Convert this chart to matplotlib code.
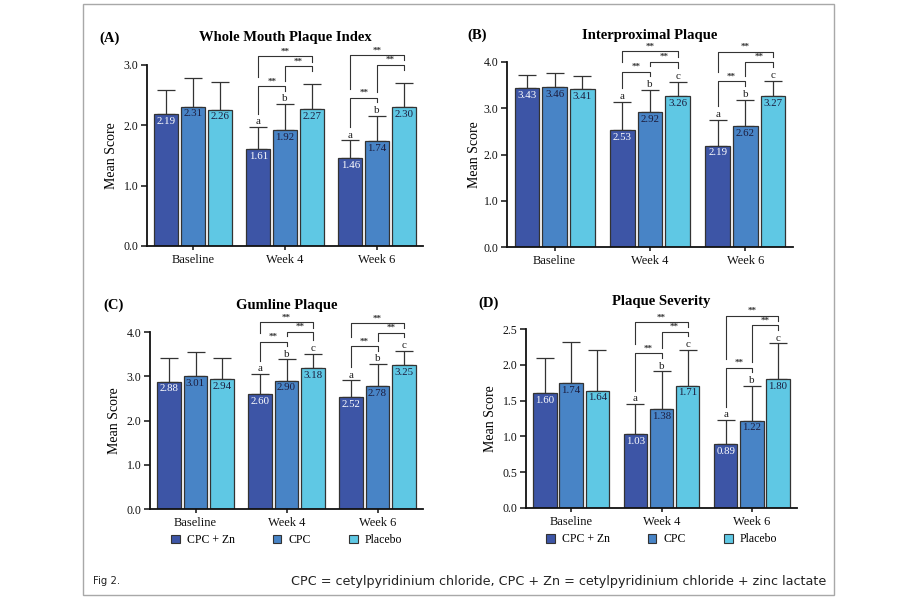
import numpy as np
import matplotlib
matplotlib.use("Agg")
import matplotlib.pyplot as plt
from matplotlib.patches import Patch, Rectangle

SERIF = ["Liberation Serif", "DejaVu Serif"]

groups = ["Baseline", "Week 4", "Week 6"]
treatments = ["CPC + Zn", "CPC", "Placebo"]
colors = ["#3d55a6", "#4884c6", "#5fc8e4"]

# rows = treatments (CPC + Zn, CPC, Placebo), cols = Baseline, Week 4, Week 6
wm_mean = [[2.19, 1.61, 1.46], [2.31, 1.92, 1.74], [2.26, 2.27, 2.30]]
wm_sd = [[0.40, 0.36, 0.29], [0.48, 0.43, 0.42], [0.45, 0.41, 0.40]]
ip_mean = [[3.43, 2.53, 2.19], [3.46, 2.92, 2.62], [3.41, 3.26, 3.27]]
ip_sd = [[0.28, 0.60, 0.56], [0.30, 0.47, 0.56], [0.28, 0.31, 0.33]]
gl_mean = [[2.88, 2.60, 2.52], [3.01, 2.90, 2.78], [2.94, 3.18, 3.25]]
gl_sd = [[0.53, 0.45, 0.39], [0.53, 0.48, 0.50], [0.48, 0.33, 0.33]]
ps_mean = [[1.60, 1.03, 0.89], [1.74, 1.38, 1.22], [1.64, 1.71, 1.80]]
ps_sd = [[0.50, 0.42, 0.34], [0.58, 0.53, 0.49], [0.57, 0.50, 0.50]]

panel_tags = ["(A)", "(B)", "(C)", "(D)"]
panel_titles = ["Whole Mouth Plaque Index", "Interproximal Plaque", "Gumline Plaque", "Plaque Severity"]
panel_ymax = [3.0, 4.0, 4.0, 2.5]
panel_ystep = [1.0, 1.0, 1.0, 0.5]
panel_letters = [["a", "b", ""], ["a", "b", "c"], ["a", "b", "c"], ["a", "b", "c"]]
sig_groups = [1, 2]  # Week 4 and Week 6 carry the ** brackets

panels = [(wm_mean, wm_sd), (ip_mean, ip_sd), (gl_mean, gl_sd), (ps_mean, ps_sd)]

W, H = 900, 600
# axes boxes in pixels: left, right, top, bottom
boxes = [(147, 423, 65, 246), (507, 793, 62, 247), (150, 423, 332, 509), (526, 797, 329, 508)]
tag_pos = [(99, 38), (467, 35), (103, 305), (478, 303)]
ylabel_pad = [4, 2, 4, 4]

BW = 0.26
OFF = [-0.29, 0.0, 0.29]
LINE = "#333333"


def bracket(ax, xa, xb, ya, top, yb, r):
    ax.plot([xa, xa, xb, xb], [ya, top, top, yb], color=LINE, lw=0.8, clip_on=False)
    ax.text((xa + xb) / 2, top + 0.004 * r, "**", ha="center", va="bottom", fontsize=6.5,
            color=LINE, family=SERIF, fontweight="bold", clip_on=False)


def draw_sig(ax, gi, tops, r):
    L, d, g = 0.075 * r, 0.025 * r, 0.03 * r
    x1, x2, x3 = [gi + o for o in OFF]
    t1, t2, t3 = tops
    l12, r12 = t1 + L, t2 + L
    top12 = max(l12, r12) + d
    bracket(ax, x1, x2, l12, top12, r12, r)
    l23, r23 = top12 + g, t3 + L
    top23 = max(l23, r23) + d
    bracket(ax, x2, x3, l23, top23, r23, r)
    l13 = top12 + 0.05 * r
    top13 = top23 + 0.055 * r
    bracket(ax, x1, x3, l13, top13, top13 - 0.03 * r, r)


fig = plt.figure(figsize=(9, 6), dpi=100)
x = np.arange(len(groups))

for p, (means, sds) in enumerate(panels):
    l, rgt, t, b = boxes[p]
    ax = fig.add_axes([l / W, 1 - b / H, (rgt - l) / W, (b - t) / H])
    ymax = panel_ymax[p]
    means = np.array(means)
    sds = np.array(sds)
    for k in range(len(treatments)):
        xs = x + OFF[k]
        ax.bar(xs, means[k], width=BW, color=colors[k], edgecolor=LINE, linewidth=0.9, zorder=2)
        ax.errorbar(xs, means[k], yerr=[np.zeros(3), sds[k]], fmt="none", ecolor=LINE,
                    elinewidth=0.9, capsize=6.5, capthick=0.9, zorder=1)
        for gi in range(len(groups)):
            ax.annotate(f"{means[k][gi]:.2f}", (xs[gi], means[k][gi]), xytext=(0, -2),
                        textcoords="offset points", ha="center", va="top", fontsize=7.8,
                        family=SERIF, color="white" if k == 0 else "#1c1c3c", zorder=3)
    for gi in sig_groups:
        tops = means[:, gi] + sds[:, gi]
        for k, let in enumerate(panel_letters[p]):
            if let:
                ax.text(gi + OFF[k], tops[k] + 0.004 * ymax, let, ha="center", va="bottom",
                        fontsize=8, family=SERIF, color="#222222")
        draw_sig(ax, gi, tops, ymax)

    ax.set_xlim(-0.5, 2.5)
    ax.set_ylim(0, ymax)
    ax.set_yticks(np.arange(0, ymax + 0.01, panel_ystep[p]))
    ax.set_yticklabels([f"{v:.1f}" for v in np.arange(0, ymax + 0.01, panel_ystep[p])],
                       family=SERIF, fontsize=8.5)
    ax.set_xticks(x)
    ax.set_xticklabels(groups, family=SERIF, fontsize=9)
    ax.tick_params(axis="y", direction="out", length=4, width=1.1, pad=2, colors="#111111")
    ax.tick_params(axis="x", direction="out", length=3, width=1.1, pad=3, colors="#111111")
    for s in ["top", "right"]:
        ax.spines[s].set_visible(False)
    for s in ["left", "bottom"]:
        ax.spines[s].set_linewidth(1.3)
        ax.spines[s].set_color("#111111")
    ax.set_ylabel("Mean Score", family=SERIF, fontsize=10, labelpad=ylabel_pad[p])

    cx = (l + rgt) / 2
    fig.text(cx / W, 1 - (t - 27) / H, panel_titles[p], ha="center", va="center",
             family=SERIF, fontsize=10.5, fontweight="bold")
    tx, ty = tag_pos[p]
    fig.text(tx / W, 1 - ty / H, panel_tags[p], ha="left", va="center",
             family=SERIF, fontsize=10.5, fontweight="bold")

    if p >= 2:
        handles = [Patch(facecolor=c, edgecolor=LINE, linewidth=0.8, label=tr)
                   for c, tr in zip(colors, treatments)]
        ax.legend(handles=handles, ncol=3, loc="center", bbox_to_anchor=(0.5, -0.175),
                  frameon=False, handlelength=0.75, handleheight=0.75, handletextpad=0.6,
                  columnspacing=3.2, prop={"family": SERIF, "size": 8.5})

fig.add_artist(Rectangle((83 / W, 1 - 595 / H), (834 - 83) / W, (595 - 4) / H,
                         transform=fig.transFigure, fill=False, edgecolor="#a8a8a8", lw=1.0))
fig.text(93 / W, 1 - 581 / H, "Fig 2.", ha="left", va="center", family="DejaVu Sans",
         fontsize=7.3, color="#222222")
fig.text(826 / W, 1 - 581 / H,
         "CPC = cetylpyridinium chloride, CPC + Zn = cetylpyridinium chloride + zinc lactate",
         ha="right", va="center", family="DejaVu Sans", fontsize=9.2, color="#222222")

fig.savefig("out.png", dpi=100, facecolor="white")
